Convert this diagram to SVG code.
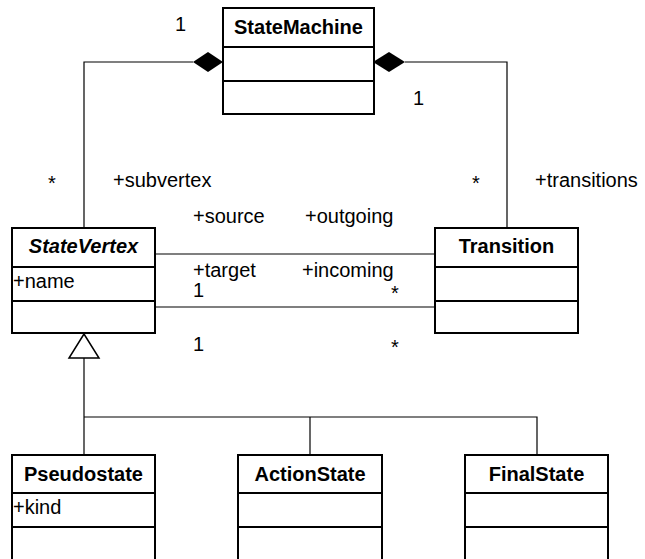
<svg xmlns="http://www.w3.org/2000/svg" width="645" height="559" viewBox="0 0 645 559">
<style>
.box{fill:#fff;stroke:#000;stroke-width:2}
.div{stroke:#000;stroke-width:2}
.ln{fill:none;stroke:#000;stroke-width:1.2}
.t{font-family:"Liberation Sans",Arial,sans-serif;font-size:20px;fill:#000}
.n{font-family:"Liberation Sans",Arial,sans-serif;font-size:20px;font-weight:bold;fill:#000;text-anchor:middle}
</style>
<rect width="645" height="559" fill="#fff"/>
<g id="connectors">
<path class="ln" d="M193,62 H84 V228"/>
<path class="ln" d="M405,62 H507 V228"/>
<polygon points="223,62 208,52 193,62 208,72" fill="#000"/>
<polygon points="373,62 389,52 405,62 389,72" fill="#000"/>
<line class="ln" x1="155" y1="254" x2="435" y2="254"/>
<line class="ln" x1="155" y1="307" x2="435" y2="307"/>
<polygon points="84,334 69,358 99,358" fill="#fff" stroke="#000" stroke-width="1.5"/>
<path class="ln" d="M84,358 V455" stroke-width="1.5"/>
<path class="ln" d="M84,417 H537 V455"/>
<line class="ln" x1="310" y1="417" x2="310" y2="455"/>
<text class="t" x="175" y="31">1</text>
<text class="t" x="413" y="105">1</text>
<text class="t" x="48" y="190">*</text>
<text class="t" x="113" y="187">+subvertex</text>
<text class="t" x="472" y="190">*</text>
<text class="t" x="535" y="187">+transitions</text>
<text class="t" x="193" y="223">+source</text>
<text class="t" x="305" y="223">+outgoing</text>
<text class="t" x="193" y="277">+target</text>
<text class="t" x="193" y="297">1</text>
<text class="t" x="302" y="277">+incoming</text>
<text class="t" x="391" y="300">*</text>
<text class="t" x="193" y="351">1</text>
<text class="t" x="391" y="354">*</text>
</g>
<g id="StateMachine">
<rect class="box" x="223" y="8" width="151" height="106"/>
<line class="div" x1="223" y1="47" x2="374" y2="47"/>
<line class="div" x1="223" y1="81" x2="374" y2="81"/>
<text class="n" x="298.5" y="34">StateMachine</text>
</g>
<g id="StateVertex">
<rect class="box" x="12" y="228" width="143" height="105"/>
<line class="div" x1="12" y1="267" x2="155" y2="267"/>
<line class="div" x1="12" y1="301" x2="155" y2="301"/>
<text class="n" x="83.5" y="253" font-style="italic">StateVertex</text>
<text class="t" x="13" y="288">+name</text>
</g>
<g id="Transition">
<rect class="box" x="435" y="228" width="143" height="105"/>
<line class="div" x1="435" y1="267" x2="578" y2="267"/>
<line class="div" x1="435" y1="301" x2="578" y2="301"/>
<text class="n" x="506.5" y="253">Transition</text>
</g>
<g id="Pseudostate">
<rect class="box" x="12" y="455" width="143" height="120"/>
<line class="div" x1="12" y1="493" x2="155" y2="493"/>
<line class="div" x1="12" y1="527" x2="155" y2="527"/>
<text class="n" x="83.5" y="481">Pseudostate</text>
<text class="t" x="13" y="514">+kind</text>
</g>
<g id="ActionState">
<rect class="box" x="238" y="455" width="144" height="120"/>
<line class="div" x1="238" y1="493" x2="382" y2="493"/>
<line class="div" x1="238" y1="527" x2="382" y2="527"/>
<text class="n" x="310" y="481">ActionState</text>
</g>
<g id="FinalState">
<rect class="box" x="465" y="455" width="143" height="120"/>
<line class="div" x1="465" y1="493" x2="608" y2="493"/>
<line class="div" x1="465" y1="527" x2="608" y2="527"/>
<text class="n" x="536.5" y="481">FinalState</text>
</g>
</svg>
